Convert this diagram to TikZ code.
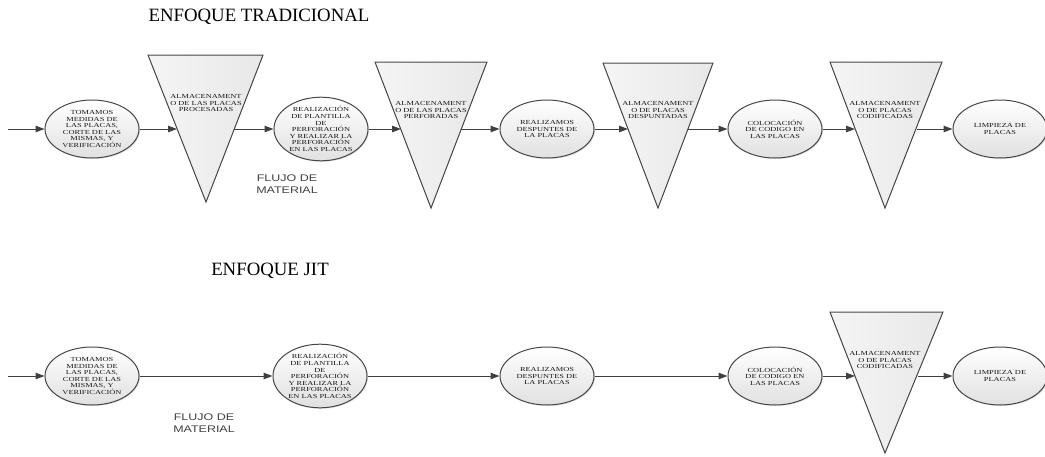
\documentclass[tikz,border=0pt]{standalone}
\usepackage{fontspec}
\usetikzlibrary{shapes.geometric,arrows.meta,shadows}
\newfontfamily\boxfont[FakeStretch=1.35]{Liberation Serif}
\newfontfamily\flowfont[FakeStretch=1.3]{Liberation Sans}
\newfontfamily\titlefont{Liberation Serif}

\tikzset{
  proc/.style={ellipse, draw=black!72, line width=1pt, top color=white, bottom color=black!12,
    drop shadow={fill=black!25, opacity=0.5, shadow xshift=1pt, shadow yshift=-1pt},
    minimum width=94pt, minimum height=58pt, inner sep=0pt, align=center,
    font=\boxfont\fontsize{6.2}{6.6}\selectfont, text=black!90},
  store/.style={draw=black!72, line width=1pt, left color=black!4, right color=black!9, line join=miter},
  storetext/.style={align=center, inner sep=0pt, font=\boxfont\fontsize{6.2}{6.7}\selectfont, text=black!90},
  flow/.style={draw=black!75, line width=1pt, -{Triangle[length=9pt,width=6.5pt]}},
  flujo/.style={align=center, inner sep=0pt, font=\flowfont\fontsize{9.6}{12.5}\selectfont, text=black!75},
  titulo/.style={inner sep=0pt, font=\titlefont\fontsize{18.8}{20}\selectfont, text=black}
}

\begin{document}
\begin{tikzpicture}[x=1pt,y=-1pt]
\useasboundingbox (0,0) rectangle (1045,456);

% enfoque tradicional
\node[titulo] (tit1) at (259,17) {ENFOQUE TRADICIONAL};

\filldraw[store] (148,55) -- (263,55) -- (206,202) -- cycle;
\filldraw[store] (375,62) -- (487,62) -- (431,208) -- cycle;
\filldraw[store] (603,63) -- (713,63) -- (658,208) -- cycle;
\filldraw[store] (830,62) -- (942,62) -- (885,208) -- cycle;

\node[storetext] (alm1) at (206,103) {ALMACENAMENT\\O DE LAS PLACAS\\PROCESADAS};
\node[storetext] (alm2) at (431,110) {ALMACENAMENT\\O DE LAS PLACAS\\PERFORADAS};
\node[storetext] (alm3) at (658,110) {ALMACENAMENT\\O DE PLACAS\\DESPUNTADAS};
\node[storetext] (alm4) at (885,110) {ALMACENAMENT\\O DE PLACAS\\CODIFICADAS};

\coordinate (ent1) at (8,129);
\coordinate (alm1in) at (177,129);
\coordinate (alm1out) at (234,129);
\coordinate (alm2in) at (401,129);
\coordinate (alm2out) at (461,129);
\coordinate (alm3in) at (628,129);
\coordinate (alm3out) at (688,129);
\coordinate (alm4in) at (855,129);
\coordinate (alm4out) at (917,129);

\node[proc] (medir1) at (92,129) {TOMAMOS\\MEDIDAS DE\\LAS PLACAS,\\CORTE DE LAS\\MISMAS, Y\\VERIFICACIÓN};
\node[proc] (perf1) at (321,129) {REALIZACIÓN\\DE PLANTILLA\\DE\\PERFORACIÓN\\Y REALIZAR LA\\PERFORACIÓN\\EN LAS PLACAS};
\node[proc] (desp1) at (547,129) {REALIZAMOS\\DESPUNTES DE\\LA PLACAS};
\node[proc] (cod1) at (775,129) {COLOCACIÓN\\DE CODIGO EN\\LAS PLACAS};
\node[proc] (limp1) at (1000,129) {LIMPIEZA DE\\PLACAS};

\draw[flow] (ent1) -- (medir1);
\draw[flow] (medir1) -- (alm1in);
\draw[flow] (alm1out) -- (perf1);
\draw[flow] (perf1) -- (alm2in);
\draw[flow] (alm2out) -- (desp1);
\draw[flow] (desp1) -- (alm3in);
\draw[flow] (alm3out) -- (cod1);
\draw[flow] (cod1) -- (alm4in);
\draw[flow] (alm4out) -- (limp1);

\node[flujo] (flujo1) at (287,184) {FLUJO DE\\MATERIAL};

% enfoque jit
\node[titulo] (tit2) at (270,271) {ENFOQUE JIT};

\filldraw[store] (830,312) -- (943,312) -- (885,453) -- cycle;
\node[storetext] (alm5) at (885,360) {ALMACENAMENT\\O DE PLACAS\\CODIFICADAS};

\coordinate (ent2) at (8,376);
\coordinate (alm5in) at (855,376);
\coordinate (alm5out) at (918,376);

\node[proc] (medir2) at (92,376) {TOMAMOS\\MEDIDAS DE\\LAS PLACAS,\\CORTE DE LAS\\MISMAS, Y\\VERIFICACIÓN};
\node[proc] (perf2) at (320,376) {REALIZACIÓN\\DE PLANTILLA\\DE\\PERFORACIÓN\\Y REALIZAR LA\\PERFORACIÓN\\EN LAS PLACAS};
\node[proc] (desp2) at (547,376) {REALIZAMOS\\DESPUNTES DE\\LA PLACAS};
\node[proc] (cod2) at (775,376) {COLOCACIÓN\\DE CODIGO EN\\LAS PLACAS};
\node[proc] (limp2) at (1000,376) {LIMPIEZA DE\\PLACAS};

\draw[flow] (ent2) -- (medir2);
\draw[flow] (medir2) -- (perf2);
\draw[flow] (perf2) -- (desp2);
\draw[flow] (desp2) -- (cod2);
\draw[flow] (cod2) -- (alm5in);
\draw[flow] (alm5out) -- (limp2);

\node[flujo] (flujo2) at (204,423) {FLUJO DE\\MATERIAL};
\end{tikzpicture}
\end{document}
